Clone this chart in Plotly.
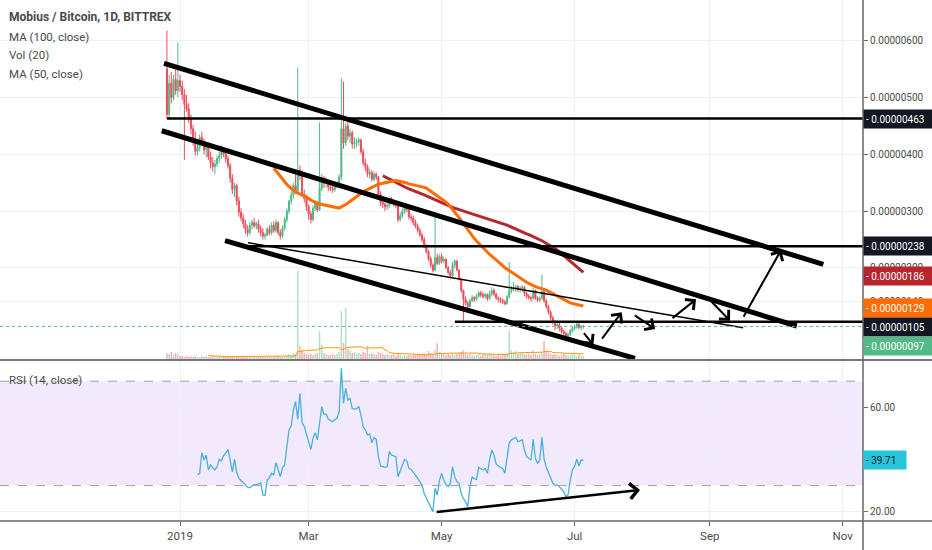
import pandas as pd
import plotly.graph_objects as go

# --- Datos (satoshis, velas diarias desde 2018-12-26) ---
first_day = '2018-12-26'
opens = [551, 470, 525, 500, 532, 512, 530, 520, 505, 488, 480, 462, 445, 425, 405, 412, 430, 420, 408, 415,
         395, 385, 378, 383, 393, 398, 405, 400, 392, 380, 358, 338, 345, 318, 298, 288, 278, 268, 262, 275,
         280, 274, 278, 268, 262, 256, 258, 268, 262, 275, 266, 280, 262, 256, 270, 285, 300, 318, 328, 345,
         335, 372, 365, 330, 322, 308, 295, 285, 305, 315, 302, 340, 358, 350, 352, 342, 340, 338, 345, 348,
         360, 445, 420, 450, 432, 438, 418, 420, 422, 425, 405, 385, 378, 365, 368, 356, 365, 360, 330, 315,
         312, 308, 310, 322, 316, 314, 310, 285, 292, 300, 306, 303, 290, 288, 280, 274, 266, 258, 250, 238,
         228, 216, 205, 196, 218, 208, 220, 212, 215, 200, 192, 186, 205, 212, 196, 180, 160, 145, 138, 132,
         142, 148, 145, 150, 156, 152, 150, 153, 146, 155, 160, 154, 147, 145, 143, 140, 137, 149, 160, 163,
         165, 167, 162, 164, 166, 155, 150, 148, 146, 160, 147, 143, 146, 158, 142, 132, 122, 112, 104, 98,
         100, 94, 88, 85, 80, 83, 90, 94, 96, 101, 95, 97]
highs = [618, 540, 545, 540, 550, 597, 540, 530, 515, 505, 490, 470, 452, 440, 420, 435, 440, 428, 420, 418,
         405, 395, 390, 398, 405, 416, 412, 405, 398, 385, 365, 350, 348, 325, 305, 295, 285, 275, 280, 285,
         288, 282, 285, 275, 270, 262, 272, 275, 280, 282, 285, 282, 268, 275, 290, 305, 320, 335, 350, 365,
         553, 380, 372, 338, 328, 312, 300, 310, 320, 318, 456, 365, 362, 360, 356, 350, 345, 350, 352, 365,
         534, 528, 455, 458, 445, 442, 430, 428, 430, 428, 410, 392, 382, 375, 372, 370, 368, 362, 335, 320,
         318, 315, 325, 325, 320, 318, 312, 298, 305, 310, 310, 305, 295, 292, 285, 278, 270, 262, 255, 242,
         232, 220, 208, 293, 225, 224, 226, 220, 217, 204, 196, 210, 215, 214, 198, 182, 162, 150, 142, 146,
         152, 150, 154, 160, 160, 158, 156, 155, 160, 166, 164, 156, 150, 148, 146, 144, 152, 210, 168, 175,
         170, 170, 168, 170, 168, 158, 154, 150, 165, 162, 150, 150, 188, 160, 145, 135, 125, 116, 108, 104,
         103, 97, 92, 88, 86, 92, 96, 100, 104, 103, 99, 100]
lows = [462, 462, 490, 495, 505, 500, 510, 495, 390, 475, 455, 435, 415, 398, 398, 405, 415, 400, 395, 390,
        375, 370, 365, 378, 385, 392, 395, 385, 375, 350, 330, 325, 310, 290, 282, 270, 260, 255, 258, 268,
        270, 268, 262, 255, 250, 250, 255, 258, 258, 262, 262, 258, 250, 252, 266, 280, 295, 312, 322, 330,
        332, 355, 325, 315, 300, 285, 278, 282, 300, 298, 300, 335, 340, 342, 335, 335, 332, 334, 340, 342,
        355, 410, 415, 425, 420, 410, 410, 412, 415, 400, 380, 370, 360, 358, 352, 352, 355, 325, 308, 305,
        300, 302, 305, 312, 308, 305, 280, 282, 288, 295, 298, 285, 282, 275, 270, 262, 255, 245, 235, 225,
        212, 200, 192, 194, 205, 205, 208, 208, 198, 188, 182, 184, 200, 194, 178, 156, 103, 134, 128, 130,
        140, 140, 142, 148, 148, 146, 146, 142, 144, 150, 150, 144, 140, 138, 136, 134, 135, 146, 155, 158,
        158, 158, 156, 158, 150, 146, 144, 140, 144, 144, 140, 140, 144, 138, 128, 118, 108, 100, 90, 92,
        88, 84, 80, 76, 78, 80, 86, 90, 93, 92, 90, 93]
closes = [470, 525, 500, 532, 512, 530, 520, 505, 488, 480, 462, 445, 425, 405, 412, 430, 420, 408, 415, 395,
          385, 378, 383, 393, 398, 405, 400, 392, 380, 358, 338, 345, 318, 298, 288, 278, 268, 262, 275, 280,
          274, 278, 268, 262, 256, 258, 268, 262, 275, 266, 280, 262, 256, 270, 285, 300, 318, 328, 345, 335,
          372, 365, 330, 322, 308, 295, 285, 305, 315, 302, 340, 358, 350, 352, 342, 340, 338, 345, 348, 360,
          445, 420, 450, 432, 438, 418, 420, 422, 425, 405, 385, 378, 365, 368, 356, 365, 360, 330, 315, 312,
          308, 310, 322, 316, 314, 310, 285, 292, 300, 306, 303, 290, 288, 280, 274, 266, 258, 250, 238, 228,
          216, 205, 196, 218, 208, 220, 212, 215, 200, 192, 186, 205, 212, 196, 180, 160, 145, 138, 132, 142,
          148, 145, 150, 156, 152, 150, 153, 146, 155, 160, 154, 147, 145, 143, 140, 137, 149, 160, 163, 165,
          167, 162, 164, 166, 155, 150, 148, 146, 160, 147, 143, 146, 158, 142, 132, 122, 112, 104, 98, 100,
          94, 88, 85, 80, 83, 90, 94, 96, 101, 95, 97, 97]
volumes = [0.6, 0.5, 0.7, 0.4, 0.6, 0.5, 0.3,
           0.3, 0.2, 0.3, 0.2, 0.3, 0.2, 0.3, 0.2, 0.2, 0.3,
           0.2, 0.3, 0.2, 0.2, 0.3, 0.2, 0.2, 0.3, 0.2, 0.2,
           0.3, 0.2, 0.3, 0.3, 0.2, 0.3, 0.3, 0.2, 0.3, 0.2,
           0.2, 0.3, 0.2, 0.2, 0.3, 0.2, 0.2, 0.2, 0.3, 0.2,
           0.2, 0.3, 0.2, 0.2, 0.3, 0.2, 0.3, 0.3, 0.4, 0.5,
           0.4, 0.6, 0.5, 8.8, 1.3, 0.9, 0.6, 0.5, 0.4, 0.5,
           0.4, 0.5, 0.6, 2.8, 1.4, 0.6, 0.5, 0.4, 0.4, 0.5,
           0.4, 0.5, 0.7, 4.8, 1.6, 5.1, 1.0, 0.8, 0.6, 0.7,
           0.5, 0.6, 0.5, 0.7, 0.6, 1.3, 0.5, 0.6, 0.5, 0.4,
           0.7, 0.6, 0.5, 0.4, 0.5, 0.4, 0.4, 0.5, 0.3, 0.6,
           0.4, 0.3, 0.4, 0.3, 0.4, 0.3, 0.4, 0.5, 0.4, 0.5,
           0.4, 0.6, 0.5, 0.8, 0.6, 0.5, 0.9, 1.6, 0.7, 0.5,
           0.6, 0.4, 0.5, 0.4, 0.6, 0.4, 0.5, 0.6, 0.7, 0.9,
           0.5, 0.4, 0.5, 0.4, 0.3, 0.4, 0.5, 0.3, 0.4, 0.6,
           0.4, 0.6, 0.5, 0.4, 0.3, 0.4, 0.3, 0.4, 0.5, 0.6,
           2.8, 0.9, 0.7, 0.8, 0.5, 0.6, 0.7, 0.5, 0.4, 0.5,
           0.4, 0.9, 0.5, 0.4, 0.5, 0.6, 1.8, 0.8, 0.6, 0.5,
           0.4, 0.5, 0.4, 0.3, 0.4, 0.5, 0.4, 0.3, 0.4, 0.5,
           0.4, 0.3, 0.4, 0.3, 0.3]

rsi_start = '2019-01-09'
rsi_values = [34.1, 34.7, 42.6, 39.8, 41.7, 36.0, 37.9, 37.0, 36.0, 37.2,
              40.1, 39.5, 41.5, 42.5, 43.9, 39.8, 35.3, 40.1, 35.0, 32.8,
              32.0, 31.0, 30.2, 29.4, 29.2, 29.8, 30.4, 30.2, 30.8, 31.1,
              26.4, 26.2, 32.1, 33.0, 34.7, 34.1, 38.8, 36.0, 33.5, 36.8,
              37.8, 44.9, 51.3, 52.8, 59.0, 62.2, 55.4, 65.4, 54.1, 52.6,
              49.4, 46.0, 43.9, 48.1, 50.3, 47.5, 55.0, 60.2, 57.4, 57.4,
              55.5, 54.9, 54.5, 55.2, 55.8, 58.3, 75.0, 61.5, 67.3, 62.8,
              63.4, 59.6, 59.2, 59.5, 60.2, 57.0, 52.6, 51.3, 49.4, 49.8,
              46.4, 48.5, 47.7, 41.1, 37.5, 37.3, 37.0, 37.2, 43.0, 41.7,
              41.3, 41.1, 33.4, 35.5, 37.9, 40.1, 39.5, 36.6, 36.2, 35.3,
              34.0, 32.8, 31.5, 30.2, 27.0, 25.2, 23.5, 21.5, 20.0, 29.0,
              26.4, 32.0, 34.7, 32.1, 30.4, 29.6, 30.9, 37.2, 33.4, 31.5,
              30.9, 27.0, 25.0, 23.8, 21.9, 29.6, 33.4, 32.6, 32.4, 37.0,
              36.5, 36.0, 36.6, 34.7, 40.0, 43.6, 41.7, 38.3, 37.5, 37.2,
              36.6, 34.7, 40.5, 46.4, 47.5, 48.0, 48.5, 46.8, 47.0, 47.5,
              43.6, 41.1, 40.5, 39.8, 47.7, 40.5, 38.5, 39.8, 48.5, 40.1,
              37.0, 35.0, 32.4, 31.0, 30.2, 30.2, 29.6, 28.5, 27.7, 25.7,
              26.4, 32.1, 36.0, 37.5, 40.1, 37.5, 39.8, 39.71]

# lineas dibujadas (fecha, precio en satoshis)
channel_upper = [('2018-12-24 16:00', 560.2), ('2019-10-23 02:00', 206.3)]
channel_mid = [('2018-12-23 15:00', 441.5), ('2019-10-10 22:00', 97.7)]
channel_low = [('2019-01-21 15:00', 247.9), ('2019-07-28 17:00', 40.8)]
thin_line = [('2019-02-01 05:00', 244.4), ('2019-09-16 07:00', 94.7)]
levels = [('2018-12-26 00:00', 463), ('2019-01-30 19:00', 238), ('2019-05-07 02:00', 105)]
arrows = [
    (('2019-07-04 17:00', 87.7), ('2019-07-09 14:00', 64.3)),
    (('2019-07-13 02:00', 73.0), ('2019-07-22 14:00', 121.8)),
    (('2019-07-27 22:00', 118.3), ('2019-08-06 22:00', 92.4)),
    (('2019-08-14 05:00', 109.5), ('2019-08-25 17:00', 144.7)),
    (('2019-09-01 02:00', 143.5), ('2019-09-10 07:00', 107.0)),
    (('2019-09-16 03:00', 111.3), ('2019-10-03 17:00', 231.5)),
]
rsi_arrow = (('2019-04-28 00:00', 19.8), ('2019-07-31 00:00', 28.3))

price_ticks = [140, 200, 300, 400, 500, 600]
rsi_ticks = [20, 40, 60]
rsi_tick_text = ['20.00', '', '60.00']
month_ticks = ['2019-01-01', '2019-03-01', '2019-05-01', '2019-07-01', '2019-09-01', '2019-11-01']
month_labels = ['2019', 'Mar', 'May', 'Jul', 'Sep', 'Nov']

# etiquetas del eje de precios: (valor, texto, fondo, desplazamiento)
price_tags = [(463, '0.00000463', '#131722', 0), (238, '0.00000238', '#131722', 0),
              (186, '0.00000186', '#b8262d', 0), (129, '0.00000129', '#ff6d00', 0),
              (105, '0.00000105', '#131722', -5), (97, '0.00000097', '#53b987', -20)]

SAT = 1e-8
GREEN = '#53b987'
RED = '#eb4d5c'
GRID = '#eef0f3'
AXIS_TXT = '#4a4a4a'
FONT = 'Roboto'

df = pd.DataFrame({'open': opens, 'high': highs, 'low': lows, 'close': closes, 'vol': volumes},
                  index=pd.date_range(first_day, periods=len(closes), freq='D'))
df['ma50'] = df['close'].rolling(50).mean()
df['ma100'] = df['close'].rolling(100).mean()
df['vol_ma'] = df['vol'].rolling(20).mean()
rsi = pd.Series(rsi_values, index=pd.date_range(rsi_start, periods=len(rsi_values), freq='D'))

fig = go.Figure()

vol_colors = ['rgba(83,185,135,0.45)' if c >= o else 'rgba(235,77,92,0.45)'
              for o, c in zip(df['open'], df['close'])]
fig.add_trace(go.Bar(x=df.index, y=df['vol'], marker_color=vol_colors, marker_line_width=0,
                     xaxis='x', yaxis='y3', hoverinfo='skip'))
fig.add_trace(go.Scatter(x=df.index, y=df['vol_ma'], mode='lines', line=dict(color='#ff9800', width=1),
                         xaxis='x', yaxis='y3', hoverinfo='skip'))

fig.add_trace(go.Candlestick(
    x=df.index, open=df['open'] * SAT, high=df['high'] * SAT, low=df['low'] * SAT, close=df['close'] * SAT,
    increasing=dict(line=dict(color=GREEN, width=1), fillcolor=GREEN),
    decreasing=dict(line=dict(color=RED, width=1), fillcolor=RED),
    whiskerwidth=0, xaxis='x', yaxis='y', hoverinfo='skip'))

fig.add_trace(go.Scatter(x=df.index, y=df['ma100'] * SAT, mode='lines',
                         line=dict(color='#b8262d', width=3), xaxis='x', yaxis='y'))
fig.add_trace(go.Scatter(x=df.index, y=df['ma50'] * SAT, mode='lines',
                         line=dict(color='#ff6d00', width=3), xaxis='x', yaxis='y'))

fig.add_trace(go.Scatter(x=rsi.index, y=rsi.values, mode='lines',
                         line=dict(color='#46b2dc', width=1.3), xaxis='x2', yaxis='y2'))

X_RANGE = ['2018-10-10 10:00', '2019-11-10 07:00']
P_DOMAIN = [1 - 359 / 521, 1]
R_DOMAIN = [0, 1 - 361 / 521]
SEP = 1 - 360 / 521


def py(px):
    # posición vertical en píxeles -> coordenadas de papel
    return 1 - px / 521


# canal y líneas de tendencia
for pts, w in [(channel_upper, 5), (channel_mid, 5), (channel_low, 5), (thin_line, 1.5)]:
    (xa, ya), (xb, yb) = pts
    fig.add_shape(type='line', xref='x', yref='y', x0=xa, y0=ya * SAT, x1=xb, y1=yb * SAT,
                  line=dict(color='black', width=w))
for xs, lvl in levels:
    fig.add_shape(type='line', xref='x', yref='y', x0=xs, y0=lvl * SAT, x1=X_RANGE[1], y1=lvl * SAT,
                  line=dict(color='black', width=2.5))

# precio actual (punteado)
fig.add_shape(type='line', xref='paper', yref='y', x0=0, x1=1, y0=97 * SAT, y1=97 * SAT,
              line=dict(color=GREEN, width=1, dash='dot'))

# banda RSI
fig.add_shape(type='rect', xref='paper', yref='y2', x0=0, x1=1, y0=30, y1=70,
              fillcolor='#f3e9fd', line_width=0, layer='below')
for lv in [30, 70]:
    fig.add_shape(type='line', xref='paper', yref='y2', x0=0, x1=1, y0=lv, y1=lv,
                  line=dict(color='#a0a0a0', width=1, dash='dash'))

# separadores y ejes
fig.add_shape(type='line', xref='paper', yref='paper', x0=0, x1=932 / 863, y0=SEP, y1=SEP,
              line=dict(color='#777', width=2))
fig.add_shape(type='line', xref='paper', yref='paper', x0=0, x1=932 / 863, y0=0, y1=0,
              line=dict(color='#666', width=1.5))
fig.add_shape(type='line', xref='paper', yref='paper', x0=1, x1=1, y0=-29 / 521, y1=1,
              line=dict(color='#666', width=1.5))

# flechas
for (ta, tb), (ha, hb) in arrows:
    fig.add_annotation(x=ha, y=hb * SAT, ax=ta, ay=tb * SAT, xref='x', yref='y', axref='x', ayref='y',
                       text='', showarrow=True, arrowhead=4, arrowsize=1.3, arrowwidth=2,
                       arrowcolor='black', standoff=0)
(ta, tb), (ha, hb) = rsi_arrow
fig.add_annotation(x=ha, y=hb, ax=ta, ay=tb, xref='x2', yref='y2', axref='x2', ayref='y2',
                   text='', showarrow=True, arrowhead=4, arrowsize=1.2, arrowwidth=2.5,
                   arrowcolor='black', standoff=0)

# etiquetas de precio a la derecha
for val, txt, bg, shift in price_tags:
    fig.add_annotation(x=1, y=val * SAT, xref='paper', yref='y', xanchor='left', yanchor='middle',
                       text='- ' + txt, showarrow=False, bgcolor=bg, yshift=shift,
                       font=dict(family=FONT, size=10, color='white'),
                       width=64, height=14, align='left', borderpad=2)
fig.add_annotation(x=1, y=rsi_values[-1], xref='paper', yref='y2', xanchor='left', yanchor='middle',
                   text='- %.2f' % rsi_values[-1], showarrow=False, bgcolor='#26c6da',
                   font=dict(family=FONT, size=10, color='#131722'),
                   width=38, height=14, align='left', borderpad=2)

# textos de leyenda
legend_lines = [('<b>Mobius / Bitcoin, 1D, BITTREX</b>', 17, 12), ('MA (100, close)', 37, 11.5),
                ('Vol (20)', 55, 11.5), ('MA (50, close)', 74, 11.5), ('RSI (14, close)', 380, 11.5)]
for txt, ypx, size in legend_lines:
    fig.add_annotation(x=0.008, y=py(ypx), xref='paper', yref='paper', xanchor='left', yanchor='middle',
                       text=txt, showarrow=False, font=dict(family=FONT, size=size, color=AXIS_TXT))

fig.update_layout(
    width=932, height=550,
    margin=dict(l=0, r=69, t=0, b=29),
    paper_bgcolor='white', plot_bgcolor='white',
    showlegend=False,
    font=dict(family=FONT, size=11, color=AXIS_TXT),
    bargap=0.3,
    xaxis=dict(domain=[0, 1], anchor='y', type='date', range=X_RANGE, tickvals=month_ticks,
               showticklabels=False, showgrid=True, gridcolor=GRID, zeroline=False,
               rangeslider=dict(visible=False)),
    xaxis2=dict(domain=[0, 1], anchor='y2', type='date', matches='x', range=X_RANGE,
                tickvals=month_ticks, ticktext=month_labels, ticks='outside', ticklen=4,
                tickcolor='#666', showgrid=True, gridcolor=GRID, zeroline=False,
                tickfont=dict(size=11.5, color=AXIS_TXT)),
    yaxis=dict(domain=P_DOMAIN, anchor='x', side='right', range=[39.6 * SAT, 671.7 * SAT],
               tickvals=[t * SAT for t in price_ticks], tickformat='.8f', ticks='outside', ticklen=4,
               tickcolor='#666', showgrid=True, gridcolor=GRID, zeroline=False,
               tickfont=dict(size=10, color=AXIS_TXT)),
    yaxis3=dict(domain=P_DOMAIN, overlaying='y', range=[0, 36], visible=False),
    yaxis2=dict(domain=R_DOMAIN, anchor='x2', side='right', range=[16.44, 77.74],
                tickvals=rsi_ticks, ticktext=rsi_tick_text, ticks='outside', ticklen=4,
                tickcolor='#666', showgrid=True, gridcolor=GRID, zeroline=False,
                tickfont=dict(size=10, color=AXIS_TXT)),
)

# la página trae 8px de margen en <body>; se quita para que el gráfico empiece en la esquina
fig.write_html("out.html", config={'displayModeBar': False},
               post_script="document.body.style.margin='0';")
